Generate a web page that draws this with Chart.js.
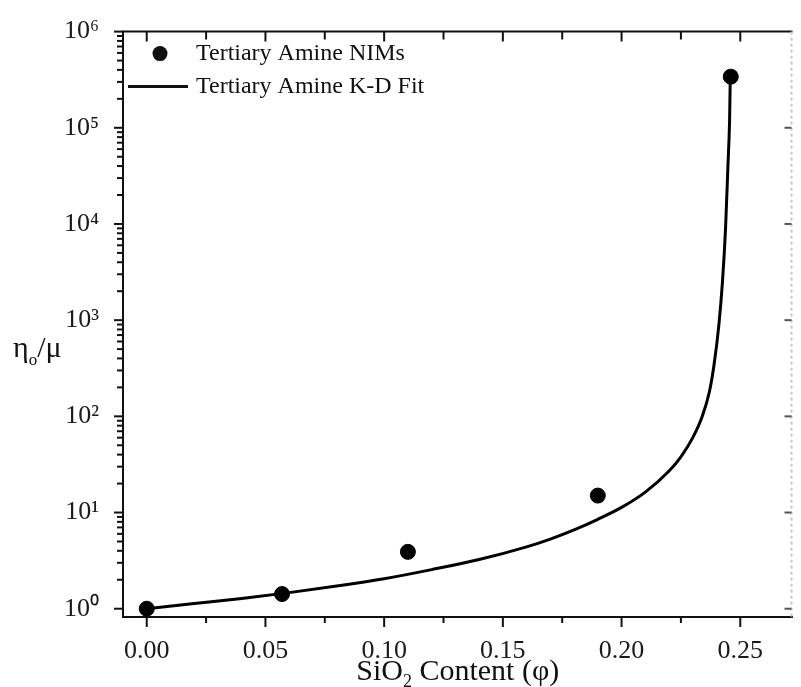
<!DOCTYPE html>
<html>
<head>
<meta charset="utf-8">
<script src="https://cdn.jsdelivr.net/npm/chart.js@4.4.0/dist/chart.umd.min.js"></script>
<style>
  html, body { margin: 0; padding: 0; background: #fff; }
  #wrap { width: 801px; height: 687px; }
</style>
</head>
<body>
<div id="wrap"><canvas id="myChart"></canvas></div>
<script>
// measured NIM samples
let phiData = [0.0, 0.057, 0.11, 0.19, 0.246];
let ratioData = [1.0, 1.42, 3.9, 15, 340000];

// K-D fit curve
let phiFit = [0.0, 0.02, 0.04, 0.06, 0.08, 0.10, 0.12, 0.14, 0.16, 0.17, 0.18, 0.19, 0.20, 0.21, 0.22, 0.225, 0.23, 0.234, 0.237, 0.239, 0.241, 0.2425, 0.2438, 0.2448, 0.2455, 0.2458];
let ratioFit = [1.0, 1.13, 1.28, 1.47, 1.72, 2.05, 2.55, 3.25, 4.4, 5.3, 6.6, 8.5, 11.3, 16.3, 27, 38, 60, 100, 180, 350, 900, 2500, 9000, 40000, 120000, 340000];

let xTickLabels = ["0.00", "0.05", "0.10", "0.15", "0.20", "0.25"];
let yTickLabels = ["10⁰", "10¹", "10²", "10³", "10⁴", "10⁵", "10⁶"];

let labelNIM = "Tertiary Amine NIMs";
let labelFit = "Tertiary Amine K-D Fit";

const serif = "'Liberation Serif', 'Times New Roman', serif";

//draws the tick marks on all four sides of the frame
const frameTicks = {
  id: "frameTicks",
  afterDraw(chart) {
    const ctx = chart.ctx;
    const a = chart.chartArea;
    const x = chart.scales.x;
    const y = chart.scales.y;
    ctx.save();
    ctx.strokeStyle = "#111";
    ctx.lineWidth = 2;
    ctx.beginPath();
    ctx.moveTo(a.left - 1, a.top);
    ctx.lineTo(a.right, a.top);
    ctx.stroke();

    // x ticks every 0.025
    for (let i = 0; i <= 10; i++) {
      let px = x.getPixelForValue(i * 0.025);
      let major = i % 2 == 0;
      ctx.beginPath();
      ctx.moveTo(px, a.bottom);
      ctx.lineTo(px, a.bottom + (major ? 10 : 6));
      ctx.moveTo(px, a.top);
      ctx.lineTo(px, a.top + (major ? 10 : 8));
      ctx.stroke();
    }

    // y ticks, 1..9 per decade
    for (let k = 0; k <= 6; k++) {
      for (let m = 1; m <= 9; m++) {
        let v = m * Math.pow(10, k);
        if (v > y.max) break;
        let py = y.getPixelForValue(v);
        ctx.beginPath();
        ctx.moveTo(a.left, py);
        ctx.lineTo(a.left - (m == 1 ? 9 : 6), py);
        ctx.stroke();
      }
    }

    // faint right axis
    ctx.strokeStyle = "#c8c8c8";
    ctx.setLineDash([3, 3]);
    ctx.beginPath();
    ctx.moveTo(a.right - 1, a.top);
    ctx.lineTo(a.right - 1, a.bottom);
    ctx.stroke();
    ctx.setLineDash([]);
    ctx.strokeStyle = "#555";
    for (let k = 0; k <= 5; k++) {
      let py = y.getPixelForValue(Math.pow(10, k));
      ctx.beginPath();
      ctx.moveTo(a.right - 1, py);
      ctx.lineTo(a.right - 8, py);
      ctx.stroke();
    }
    ctx.restore();
  }
};

//legend in the top left corner and the two axis titles
const annotations = {
  id: "annotations",
  afterDraw(chart) {
    const ctx = chart.ctx;
    const a = chart.chartArea;
    const pts = chart.data.datasets[0];
    const fit = chart.data.datasets[1];
    ctx.save();
    ctx.fillStyle = "#111";
    ctx.font = "24px " + serif;
    ctx.textBaseline = "middle";

    ctx.beginPath();
    ctx.arc(a.left + 37, a.top + 22, pts.pointRadius, 0, Math.PI * 2);
    ctx.fill();
    ctx.fillText(pts.label, a.left + 73, a.top + 22);

    ctx.strokeStyle = "#111";
    ctx.lineWidth = fit.borderWidth;
    ctx.beginPath();
    ctx.moveTo(a.left + 5, a.top + 55);
    ctx.lineTo(a.left + 65, a.top + 55);
    ctx.stroke();
    ctx.fillText(fit.label, a.left + 73, a.top + 55);

    // y title, written horizontally
    ctx.textBaseline = "alphabetic";
    let tx = 13, ty = 357;
    ctx.font = "30px " + serif;
    ctx.fillText("η", tx, ty);
    tx += ctx.measureText("η").width;
    ctx.font = "17px " + serif;
    ctx.fillText("o", tx, ty + 8);
    tx += ctx.measureText("o").width;
    ctx.font = "30px " + serif;
    ctx.fillText("/μ", tx, ty);

    // x title with subscript
    let parts = [["SiO", 30, 0], ["2", 18, 7], [" Content (φ)", 30, 0]];
    let total = 0;
    parts.forEach(p => { ctx.font = p[1] + "px " + serif; total += ctx.measureText(p[0]).width; });
    let sx = (a.left + a.right) / 2 - total / 2;
    let sy = 680;
    parts.forEach(p => {
      ctx.font = p[1] + "px " + serif;
      ctx.fillText(p[0], sx, sy + p[2]);
      sx += ctx.measureText(p[0]).width;
    });
    ctx.restore();
  }
};

let chart = new Chart(document.getElementById("myChart"), {
  type: "scatter",
  data: {
    datasets: [
      {
        label: labelNIM,
        data: phiData.map((v, i) => ({ x: v, y: ratioData[i] })),
        backgroundColor: "#000",
        borderColor: "#000",
        pointRadius: 7.5,
        order: 0
      },
      {
        label: labelFit,
        data: phiFit.map((v, i) => ({ x: v, y: ratioFit[i] })),
        showLine: true,
        borderColor: "#000",
        borderWidth: 3,
        pointRadius: 0,
        cubicInterpolationMode: "monotone",
        order: 1
      }
    ]
  },
  options: {
    responsive: true,
    maintainAspectRatio: false,
    animation: false,
    layout: { padding: { top: 30, right: 1, left: 0, bottom: 0 } },
    plugins: { legend: { display: false }, tooltip: { enabled: false } },
    scales: {
      x: {
        type: "linear",
        min: -0.01,
        max: 0.272,
        grid: { display: false },
        border: { display: true, color: "#111", width: 2 },
        afterBuildTicks: s => { s.ticks = xTickLabels.map(l => ({ value: parseFloat(l) })); },
        afterFit: s => { s.height = 70; },
        ticks: {
          autoSkip: false,
          maxRotation: 0,
          padding: 11,
          color: "#1a1a1a",
          font: { family: serif, size: 26 },
          callback: (v, i) => xTickLabels[i]
        }
      },
      y: {
        type: "logarithmic",
        min: 0.82,
        max: 1000000,
        grid: { display: false },
        border: { display: true, color: "#111", width: 2 },
        afterBuildTicks: s => { s.ticks = yTickLabels.map((l, i) => ({ value: Math.pow(10, i) })); },
        afterFit: s => { s.width = 123; },
        ticks: {
          autoSkip: false,
          padding: 16,
          color: "#1a1a1a",
          font: { family: serif, size: 26 },
          callback: (v, i) => yTickLabels[i]
        }
      }
    }
  },
  plugins: [frameTicks, annotations]
});
</script>
</body>
</html>
